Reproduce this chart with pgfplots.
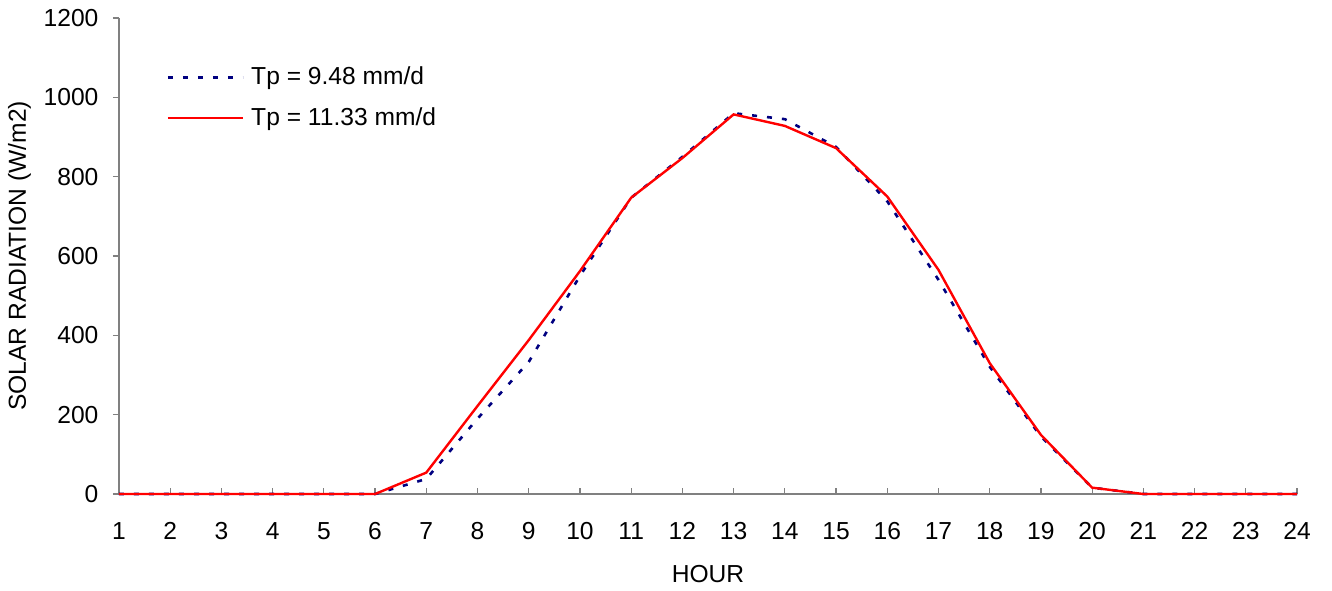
\documentclass[border=0pt]{standalone}
\usepackage{pgfplots}
\pgfplotsset{compat=1.18}
\usepackage{fontspec}
\setmainfont{Liberation Sans}
\definecolor{navyb}{RGB}{0,0,128}
\definecolor{axgray}{RGB}{128,128,128}
\begin{document}
\fontsize{12.3}{14.8}\selectfont
\begin{tikzpicture}
\useasboundingbox (0pt,0pt) rectangle (666pt,-295pt);
\begin{axis}[
  at={(59.5pt,-247pt)}, anchor=south west,
  scale only axis, width=589pt, height=238pt,
  xmin=1, xmax=24, ymin=0, ymax=1200,
  axis x line*=bottom, axis y line*=left,
  axis line style={axgray, line width=0.6pt},
  xtick={1,...,24}, ytick={0,200,...,1200},
  x tick style={axgray, line width=0.6pt}, y tick style={axgray, line width=0.6pt},
  xtick align=inside, ytick align=outside,
  major tick length=3pt,
  tick label style={font=\fontsize{12.3}{14.8}\selectfont},
  /pgf/number format/assume math mode=true,
  /pgf/number format/1000 sep={},
  xticklabel style={yshift=-10pt},
  yticklabel style={xshift=-3pt},
  xlabel={HOUR}, ylabel={SOLAR RADIATION (W/m2)},
  label style={font=\fontsize{12.3}{14.8}\selectfont},
  xlabel style={yshift=-4pt},
  ylabel style={yshift=-2pt},
  legend cell align=left,
  legend style={draw=none, fill=none, at={(0.035,0.915)}, anchor=north west,
    font=\fontsize{12.3}{14.8}\selectfont, row sep=5.5pt,
    /tikz/every odd column/.append style={column sep=0pt},
    nodes={inner xsep=3.5pt}},
  legend image code/.code={\draw[#1] (0pt,0pt) -- (37.5pt,0pt);},
  clip=false,
]
\addplot[navyb, line width=1.3pt, dash pattern=on 2.5pt off 5pt] coordinates {
(1,0)(2,0)(3,0)(4,0)(5,0)(6,0)(7,38)(8,190)(9,333)(10,550)(11,747)(12,850)
(13,960)(14,945)(15,875)(16,738)(17,540)(18,321)(19,145)(20,16)(21,0)(22,0)(23,0)(24,0)};
\addlegendentry{Tp = 9.48 mm/d}
\addplot[red, line width=1.2pt] coordinates {
(1,0)(2,0)(3,0)(4,0)(5,0)(6,0)(7,54)(8,222)(9,388)(10,562)(11,747)(12,847)
(13,957)(14,928)(15,872)(16,750)(17,565)(18,330)(19,149)(20,16)(21,0)(22,0)(23,0)(24,0)};
\addlegendentry{Tp = 11.33 mm/d}
\end{axis}
\end{tikzpicture}
\end{document}
